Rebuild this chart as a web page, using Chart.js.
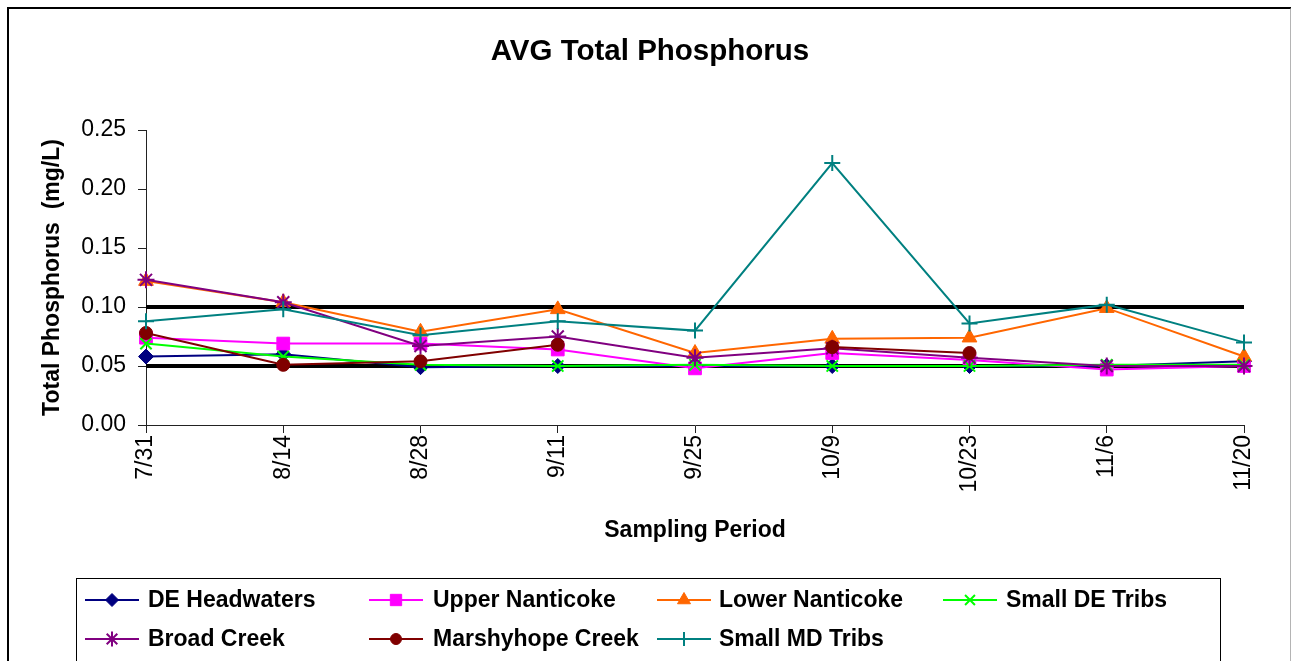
<!DOCTYPE html>
<html>
<head>
<meta charset="utf-8">
<script src="https://cdn.jsdelivr.net/npm/chart.js"></script>
<style>
  html, body { margin: 0; padding: 0; background: #fff; }
  #wrap  { position: relative; width: 1291px; height: 661px; overflow: hidden; }
  #frame { position: absolute; left: 7px; top: 7px; width: 1281px; height: 720px;
           border-left: 2px solid #000; border-top: 2px solid #000; border-right: 2px solid #b4b4b4; }
  #chart { position: absolute; left: 0; top: 0; }
</style>
</head>
<body>
<div id="wrap">
  <div id="frame"></div>
  <canvas id="chart" width="1291" height="661"></canvas>
</div>
<script>
/* ── Data ─────────────────────────────────────────────── */
const chartTitle = 'AVG Total Phosphorus';
const periods = ['7/31', '8/14', '8/28', '9/11', '9/25', '10/9', '10/23', '11/6', '11/20'];
const yTicks  = [0, 0.05, 0.10, 0.15, 0.20, 0.25];

const deHeadwaters    = [0.058, 0.060, 0.049, 0.050, 0.050, 0.050, 0.050, 0.050, 0.054];
const upperNanticoke  = [0.074, 0.069, 0.069, 0.064, 0.048, 0.061, 0.055, 0.047, 0.050];
const lowerNanticoke  = [0.122, 0.104, 0.079, 0.098, 0.061, 0.073, 0.074, 0.099, 0.058];
const smallDeTribs    = [0.069, 0.058, 0.051, 0.050, 0.051, 0.050, 0.050, 0.051, 0.051];
const broadCreek      = [0.123, 0.104, 0.067, 0.075, 0.057, 0.065, 0.057, 0.050, 0.050];
const marshyhopeCreek = [0.078, 0.051, 0.054, 0.068, null,  0.066, 0.061, null,  null ];
const smallMdTribs    = [0.088, 0.098, 0.076, 0.088, 0.080, 0.222, 0.086, 0.102, 0.070];

// the two black reference lines
const upperLimit = [0.10, 0.10, 0.10, 0.10, 0.10, 0.10, 0.10, 0.10, 0.10];
const lowerLimit = [0.05, 0.05, 0.05, 0.05, 0.05, 0.05, 0.05, 0.05, 0.05];

/* ── Styles ───────────────────────────────────────────── */
const FONT = '"Liberation Sans", Arial, sans-serif';

const SERIES = [
  { label: 'DE Headwaters',    data: deHeadwaters,    color: '#000080', style: 'rectRot',  r: 7.5, bw: 1 },
  { label: 'Upper Nanticoke',  data: upperNanticoke,  color: '#FF00FF', style: 'rect',     r: 9,   bw: 1 },
  { label: 'Lower Nanticoke',  data: lowerNanticoke,  color: '#FF6600', style: 'triangle', r: 8.5, bw: 1 },
  { label: 'Small DE Tribs',   data: smallDeTribs,    color: '#00FF00', style: 'crossRot', r: 8,   bw: 2 },
  { label: 'Broad Creek',      data: broadCreek,      color: '#800080', style: 'star',     r: 8.5, bw: 2 },
  { label: 'Marshyhope Creek', data: marshyhopeCreek, color: '#800000', style: 'circle',   r: 6.5, bw: 1 },
  { label: 'Small MD Tribs',   data: smallMdTribs,    color: '#008080', style: 'cross',    r: 8,   bw: 2 },
];

// legend slots: marker centre x, text x, row y
const LEGEND_SLOTS = [
  { mx: 112, tx: 148,  y: 600 },
  { mx: 396, tx: 433,  y: 600 },
  { mx: 684, tx: 719,  y: 600 },
  { mx: 970, tx: 1006, y: 600 },
  { mx: 112, tx: 148,  y: 639 },
  { mx: 396, tx: 433,  y: 639 },
  { mx: 684, tx: 719,  y: 639 },
];

/* ── Title + Excel-style boxed legend ─────────────────── */
const excelDecor = {
  id: 'excelDecor',
  afterDraw(chart) {
    const ctx = chart.ctx;
    ctx.save();

    ctx.fillStyle = '#000';
    ctx.font = 'bold 29.5px ' + FONT;
    ctx.textAlign = 'center';
    ctx.textBaseline = 'middle';
    ctx.fillText(chartTitle, 650, 52);

    ctx.strokeStyle = '#000';
    ctx.lineWidth = 1;
    ctx.strokeRect(76.5, 578.5, 1144, 140);

    ctx.font = 'bold 23px ' + FONT;
    ctx.textAlign = 'left';
    SERIES.forEach((s, i) => {
      const slot = LEGEND_SLOTS[i];
      ctx.strokeStyle = s.color;
      ctx.lineWidth = 2;
      ctx.beginPath();
      ctx.moveTo(slot.mx - 27, slot.y);
      ctx.lineTo(slot.mx + 27, slot.y);
      ctx.stroke();

      ctx.fillStyle = s.color;
      ctx.lineWidth = s.bw;
      Chart.helpers.drawPoint(ctx, { pointStyle: s.style, radius: s.r - 1, rotation: 0, borderWidth: s.bw }, slot.mx, slot.y);

      ctx.fillStyle = '#000';
      ctx.fillText(s.label, slot.tx, slot.y + 1);
    });
    ctx.restore();
  }
};

/* ── Chart ────────────────────────────────────────────── */
const datasets = SERIES.map((s, i) => ({
  label: s.label,
  data: s.data,
  borderColor: s.color,
  backgroundColor: s.color,
  borderWidth: 2,
  pointStyle: s.style,
  pointRadius: s.r,
  pointHoverRadius: s.r,
  pointBackgroundColor: s.color,
  pointBorderColor: s.color,
  pointBorderWidth: s.bw,
  spanGaps: false,
  tension: 0,
  order: SERIES.length - i,
}));

[upperLimit, lowerLimit].forEach(limit => datasets.push({
  label: '',
  data: limit,
  borderColor: '#000',
  borderWidth: 4,
  pointRadius: 0,
  pointHoverRadius: 0,
  order: 20,
}));

new Chart(document.getElementById('chart'), {
  type: 'line',
  data: { labels: periods, datasets },
  plugins: [excelDecor],
  options: {
    responsive: false,
    animation: false,
    layout: { padding: { left: 10, right: 47, top: 130, bottom: 117 } },
    plugins: {
      legend: { display: false },
      tooltip: { enabled: false },
      title: { display: false },
    },
    scales: {
      x: {
        offset: false,
        grid: { drawOnChartArea: false, drawTicks: true, tickLength: 8, color: '#222' },
        border: { display: true, color: '#222', width: 1 },
        ticks: {
          color: '#000',
          font: { family: FONT, size: 23 },
          minRotation: 90,
          maxRotation: 90,
          autoSkip: false,
          padding: 2,
        },
        title: {
          display: true,
          text: 'Sampling Period',
          color: '#000',
          font: { family: FONT, size: 23, weight: 'bold' },
          padding: { top: 0, bottom: 0 },
        },
        afterFit(scale) { scale.height = 119; },
      },
      y: {
        min: 0,
        max: 0.25,
        afterBuildTicks(scale) { scale.ticks = yTicks.map(v => ({ value: v })); },
        grid: { drawOnChartArea: false, drawTicks: true, tickLength: 8, color: '#222' },
        border: { display: true, color: '#222', width: 1 },
        ticks: {
          color: '#000',
          font: { family: FONT, size: 23 },
          padding: 12,
          callback: v => Number(v).toFixed(2),
        },
        title: {
          display: true,
          text: 'Total Phosphorus  (mg/L)',
          color: '#000',
          font: { family: FONT, size: 23, weight: 'bold' },
          padding: { top: 29, bottom: 0 },
        },
        afterFit(scale) { scale.width = 136; },
      },
    },
  },
});
</script>
</body>
</html>
